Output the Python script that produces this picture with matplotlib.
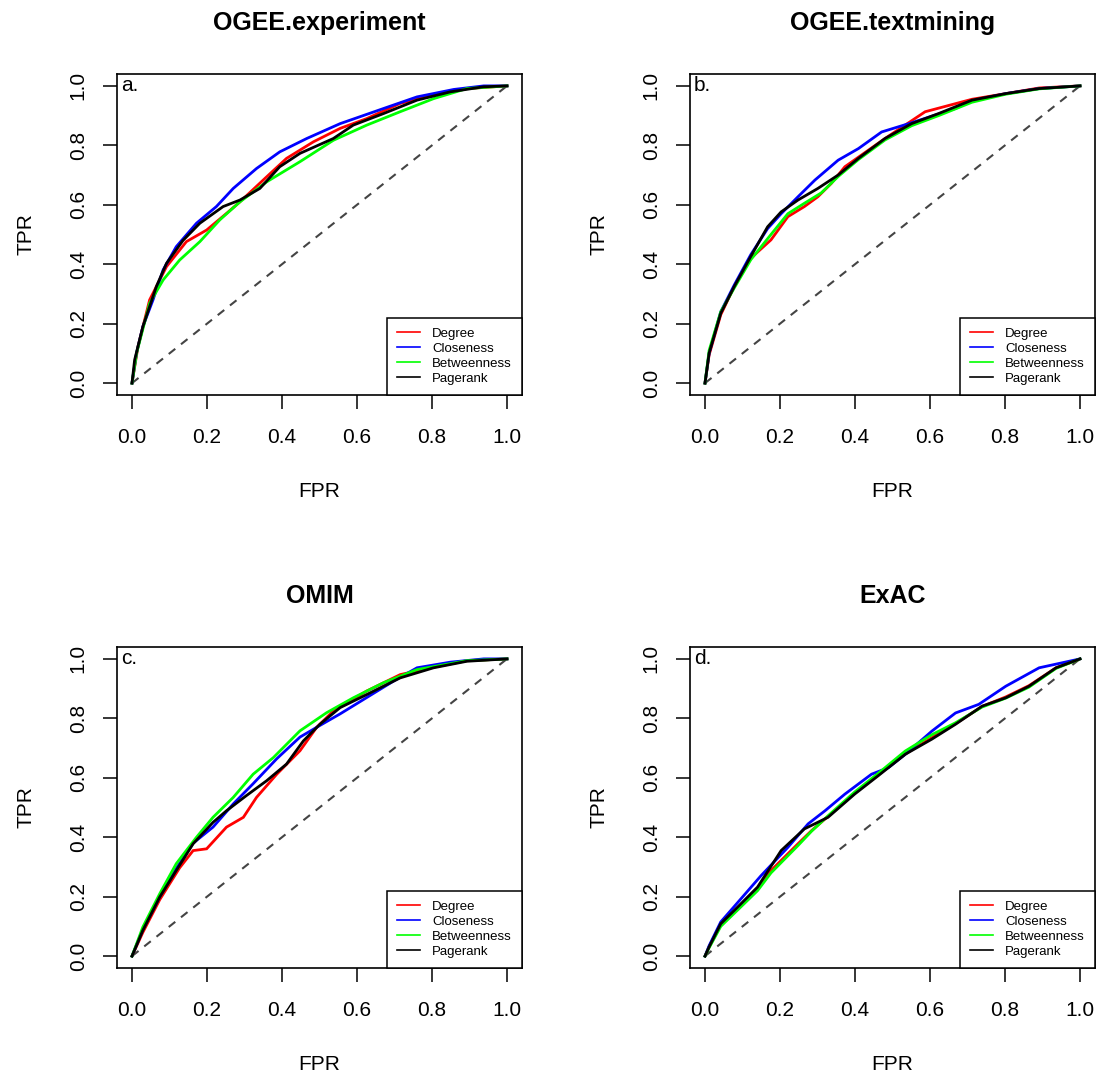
import matplotlib
matplotlib.use("Agg")
import matplotlib.pyplot as plt

plt.rcParams['font.family'] = ['Liberation Sans', 'DejaVu Sans']

panel_titles = ["OGEE.experiment", "OGEE.textmining", "OMIM", "ExAC"]
panel_letters = ["a.", "b.", "c.", "d."]
series_names = ["Degree", "Closeness", "Betweenness", "Pagerank"]
series_colors = ["#FF0000", "#0000FF", "#00FF00", "#000000"]
tick_values = [0.0, 0.2, 0.4, 0.6, 0.8, 1.0]
tick_labels = ["0.0", "0.2", "0.4", "0.6", "0.8", "1.0"]

# ---- panel a: OGEE.experiment ----
fpr_a_degree = [0, 0.016, 0.047, 0.092, 0.145, 0.199, 0.252, 0.288, 0.359, 0.412, 0.484, 0.555,
                0.626, 0.715, 0.804, 0.893, 1.0]
tpr_a_degree = [0, 0.123, 0.280, 0.392, 0.476, 0.515, 0.571, 0.610, 0.694, 0.756, 0.812, 0.857,
                0.890, 0.941, 0.969, 0.991, 1.0]
fpr_a_closeness = [0, 0.012, 0.029, 0.056, 0.083, 0.118, 0.172, 0.225, 0.270, 0.332, 0.394, 0.466,
                   0.555, 0.671, 0.760, 0.858, 0.938, 1.0]
tpr_a_closeness = [0, 0.101, 0.190, 0.280, 0.381, 0.459, 0.538, 0.594, 0.655, 0.722, 0.778, 0.823,
                   0.873, 0.924, 0.963, 0.988, 1.0, 1.0]
fpr_a_betweenness = [0, 0.012, 0.047, 0.083, 0.127, 0.181, 0.234, 0.288, 0.359, 0.448, 0.537, 0.626,
                     0.715, 0.804, 0.893, 1.0]
tpr_a_betweenness = [0, 0.100, 0.269, 0.347, 0.414, 0.476, 0.549, 0.610, 0.677, 0.745, 0.817, 0.868,
                     0.913, 0.957, 0.991, 1.0]
fpr_a_pagerank = [0, 0.007, 0.029, 0.065, 0.092, 0.136, 0.181, 0.243, 0.288, 0.341, 0.394, 0.448,
                  0.537, 0.590, 0.671, 0.760, 0.849, 0.938, 1.0]
tpr_a_pagerank = [0, 0.078, 0.190, 0.325, 0.403, 0.480, 0.538, 0.594, 0.616, 0.655, 0.728, 0.773,
                  0.823, 0.868, 0.907, 0.952, 0.980, 0.997, 1.0]

# ---- panel b: OGEE.textmining ----
fpr_b_degree = [0, 0.011, 0.042, 0.078, 0.122, 0.176, 0.221, 0.265, 0.301, 0.337, 0.373, 0.409,
                0.480, 0.587, 0.712, 0.802, 0.891, 1.0]
tpr_b_degree = [0, 0.095, 0.230, 0.325, 0.420, 0.482, 0.560, 0.594, 0.627, 0.672, 0.728, 0.760,
                0.823, 0.913, 0.955, 0.974, 0.993, 1.0]
fpr_b_closeness = [0, 0.011, 0.042, 0.078, 0.122, 0.167, 0.203, 0.248, 0.293, 0.355, 0.409, 0.471,
                   0.551, 0.668, 0.712, 0.802, 0.891, 1.0]
tpr_b_closeness = [0, 0.101, 0.240, 0.330, 0.432, 0.520, 0.570, 0.627, 0.683, 0.750, 0.789, 0.845,
                   0.876, 0.924, 0.950, 0.974, 0.991, 1.0]
fpr_b_betweenness = [0, 0.011, 0.042, 0.078, 0.122, 0.176, 0.221, 0.265, 0.310, 0.355, 0.409, 0.480,
                     0.551, 0.623, 0.712, 0.802, 0.891, 1.0]
tpr_b_betweenness = [0, 0.110, 0.240, 0.320, 0.415, 0.500, 0.570, 0.605, 0.640, 0.695, 0.752, 0.818,
                     0.866, 0.900, 0.945, 0.972, 0.990, 1.0]
fpr_b_pagerank = [0, 0.011, 0.042, 0.078, 0.122, 0.167, 0.203, 0.248, 0.301, 0.355, 0.409, 0.480,
                  0.551, 0.623, 0.712, 0.802, 0.891, 1.0]
tpr_b_pagerank = [0, 0.101, 0.235, 0.325, 0.426, 0.526, 0.576, 0.616, 0.655, 0.700, 0.756, 0.823,
                  0.873, 0.907, 0.952, 0.974, 0.991, 1.0]

# ---- panel c: OMIM ----
fpr_c_degree = [0, 0.029, 0.074, 0.127, 0.163, 0.199, 0.252, 0.297, 0.332, 0.386, 0.448, 0.492,
                0.537, 0.626, 0.715, 0.804, 0.893, 1.0]
tpr_c_degree = [0, 0.080, 0.190, 0.297, 0.355, 0.361, 0.434, 0.467, 0.534, 0.612, 0.691, 0.769,
                0.825, 0.892, 0.947, 0.972, 0.994, 1.0]
fpr_c_closeness = [0, 0.029, 0.074, 0.118, 0.163, 0.216, 0.270, 0.323, 0.386, 0.448, 0.501, 0.555,
                   0.626, 0.697, 0.760, 0.849, 0.938, 1.0]
tpr_c_closeness = [0, 0.090, 0.200, 0.295, 0.380, 0.434, 0.512, 0.580, 0.664, 0.737, 0.776, 0.815,
                   0.870, 0.925, 0.970, 0.989, 1.0, 1.0]
fpr_c_betweenness = [0, 0.029, 0.074, 0.118, 0.172, 0.216, 0.270, 0.323, 0.377, 0.448, 0.519, 0.590,
                     0.671, 0.760, 0.893, 1.0]
tpr_c_betweenness = [0, 0.098, 0.210, 0.311, 0.400, 0.467, 0.534, 0.612, 0.668, 0.758, 0.819, 0.869,
                     0.920, 0.964, 0.994, 1.0]
fpr_c_pagerank = [0, 0.029, 0.074, 0.118, 0.163, 0.216, 0.252, 0.305, 0.359, 0.412, 0.457, 0.501,
                  0.555, 0.626, 0.715, 0.804, 0.893, 1.0]
tpr_c_pagerank = [0, 0.087, 0.199, 0.288, 0.378, 0.450, 0.489, 0.540, 0.590, 0.646, 0.724, 0.780,
                  0.836, 0.880, 0.936, 0.970, 0.992, 1.0]

# ---- panel d: ExAC ----
fpr_d_degree = [0, 0.011, 0.042, 0.087, 0.140, 0.176, 0.248, 0.284, 0.328, 0.399, 0.462, 0.534,
                0.605, 0.668, 0.739, 0.802, 0.864, 0.936, 1.0]
tpr_d_degree = [0, 0.031, 0.105, 0.160, 0.225, 0.288, 0.378, 0.422, 0.470, 0.548, 0.610, 0.680,
                0.735, 0.782, 0.840, 0.872, 0.910, 0.970, 1.0]
fpr_d_closeness = [0, 0.011, 0.042, 0.087, 0.149, 0.221, 0.275, 0.320, 0.373, 0.444, 0.489, 0.534,
                   0.605, 0.668, 0.730, 0.802, 0.891, 1.0]
tpr_d_closeness = [0, 0.035, 0.115, 0.180, 0.270, 0.366, 0.445, 0.489, 0.545, 0.612, 0.634, 0.679,
                   0.757, 0.818, 0.847, 0.908, 0.970, 1.0]
fpr_d_betweenness = [0, 0.011, 0.042, 0.087, 0.140, 0.176, 0.248, 0.284, 0.328, 0.399, 0.462, 0.534,
                     0.605, 0.668, 0.739, 0.802, 0.864, 0.936, 1.0]
tpr_d_betweenness = [0, 0.028, 0.100, 0.155, 0.220, 0.280, 0.372, 0.420, 0.472, 0.552, 0.615, 0.690,
                     0.745, 0.785, 0.838, 0.868, 0.905, 0.968, 1.0]
fpr_d_pagerank = [0, 0.011, 0.042, 0.087, 0.140, 0.203, 0.265, 0.328, 0.399, 0.462, 0.534, 0.605,
                  0.668, 0.739, 0.802, 0.864, 0.936, 1.0]
tpr_d_pagerank = [0, 0.031, 0.109, 0.165, 0.232, 0.355, 0.428, 0.467, 0.545, 0.607, 0.679, 0.730,
                  0.780, 0.841, 0.869, 0.908, 0.970, 1.0]

panel_curves = [
    [(fpr_a_degree, tpr_a_degree), (fpr_a_closeness, tpr_a_closeness),
     (fpr_a_betweenness, tpr_a_betweenness), (fpr_a_pagerank, tpr_a_pagerank)],
    [(fpr_b_degree, tpr_b_degree), (fpr_b_closeness, tpr_b_closeness),
     (fpr_b_betweenness, tpr_b_betweenness), (fpr_b_pagerank, tpr_b_pagerank)],
    [(fpr_c_degree, tpr_c_degree), (fpr_c_closeness, tpr_c_closeness),
     (fpr_c_betweenness, tpr_c_betweenness), (fpr_c_pagerank, tpr_c_pagerank)],
    [(fpr_d_degree, tpr_d_degree), (fpr_d_closeness, tpr_d_closeness),
     (fpr_d_betweenness, tpr_d_betweenness), (fpr_d_pagerank, tpr_d_pagerank)],
]

W, H = 1099, 1078
fig = plt.figure(figsize=(W / 100, H / 100), dpi=100)

# plot boxes in pixels: left, top, width, height
boxes = [(117, 74, 405, 321), (690, 74, 405, 321),
         (117, 647, 405, 321), (690, 647, 405, 321)]

for i, (l, t, w, h) in enumerate(boxes):
    ax = fig.add_axes([l / W, (H - t - h) / H, w / W, h / H])
    ax.plot([0, 1], [0, 1], color="#444444", lw=1.5, ls=(0, (4, 3.5)))
    for (x, y), name, col in zip(panel_curves[i], series_names, series_colors):
        ax.plot(x, y, color=col, lw=2, label=name, solid_joinstyle="miter")
    ax.set_xlim(-0.04, 1.04)
    ax.set_ylim(-0.04, 1.04)
    ax.set_xticks(tick_values)
    ax.set_xticklabels(tick_labels)
    ax.set_yticks(tick_values)
    ax.set_yticklabels(tick_labels, rotation=90, va="center")
    ax.tick_params(direction="out", length=10, width=1.1, labelsize=15, pad=11)
    ax.tick_params(axis="x", pad=14)
    for sp in ax.spines.values():
        sp.set_linewidth(1.2)
    ax.set_title(panel_titles[i], fontsize=18, fontweight="bold", pad=32)
    ax.text(-0.225, 0.5, "TPR", transform=ax.transAxes, rotation=90,
            ha="center", va="center", fontsize=15)
    ax.text(0.5, -0.30, "FPR", transform=ax.transAxes,
            ha="center", va="center", fontsize=15)
    ax.text(-0.03, 1.0, panel_letters[i], ha="left", va="center", fontsize=15)

    leg = ax.legend(loc="lower right", borderaxespad=0, fontsize=9.5, handlelength=1.8,
                    handletextpad=0.9, borderpad=0.75, labelspacing=0.22, fancybox=False,
                    framealpha=1)
    leg.get_frame().set_edgecolor("black")
    leg.get_frame().set_linewidth(1.1)
    for line in leg.get_lines():
        line.set_linewidth(1.2)

fig.savefig("out.png", dpi=100)
